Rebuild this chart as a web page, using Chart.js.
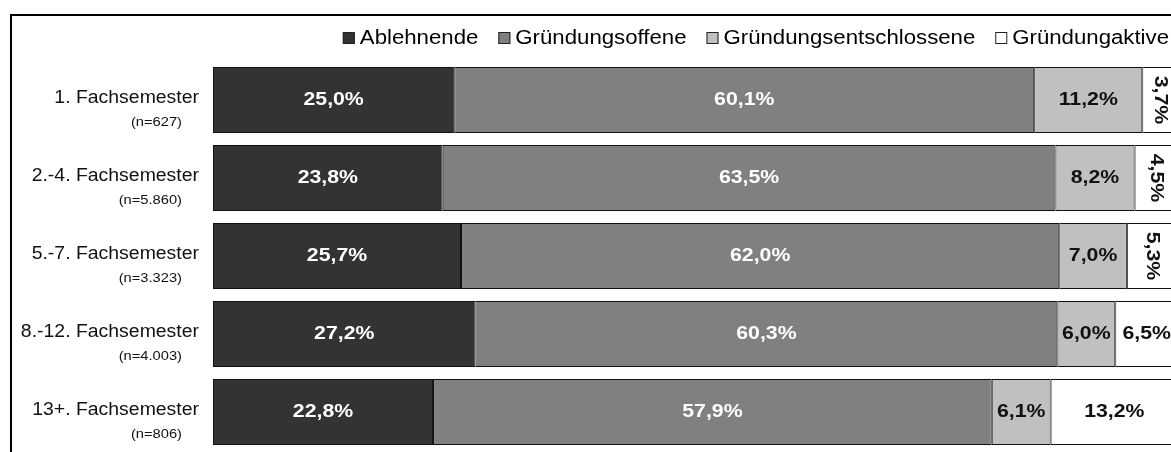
<!DOCTYPE html>
<html lang="de">
<head>
<meta charset="utf-8">
<title>Gründungsneigung nach Fachsemester</title>
<script src="https://cdn.jsdelivr.net/npm/chart.js@4/dist/chart.umd.min.js"></script>
<style>
  html, body { margin: 0; padding: 0; background: #fff; overflow: hidden; }
  #wrap { position: relative; width: 1178px; height: 452px; }
</style>
</head>
<body>
<div id="wrap"><canvas id="graphSemester"></canvas></div>
<script>
// ===== Daten =====
const semester = ["1. Fachsemester", "2.-4. Fachsemester", "5.-7. Fachsemester", "8.-12. Fachsemester", "13+. Fachsemester"];
const fallzahlen = ["(n=627)", "(n=5.860)", "(n=3.323)", "(n=4.003)", "(n=806)"];
const ablehnende = [25.0, 23.8, 25.7, 27.2, 22.8];
const gruendungsoffene = [60.1, 63.5, 62.0, 60.3, 57.9];
const gruendungsentschlossene = [11.2, 8.2, 7.0, 6.0, 6.1];
const gruendungaktive = [3.7, 4.5, 5.3, 6.5, 13.2];

const farben = ["#333333", "#808080", "#c0c0c0", "#ffffff"];
const textFarben = ["#ffffff", "#ffffff", "#111111", "#111111"];
const FONT = "'Liberation Sans', Arial, sans-serif";

function fmt(v) {
  return v.toFixed(1).replace(".", ",") + "%";
}

// Text mit horizontaler Streckung zeichnen
function drawText(ctx, text, x, y, align, sx) {
  ctx.save();
  ctx.translate(x, y);
  ctx.scale(sx, 1);
  ctx.textAlign = align;
  ctx.textBaseline = "middle";
  ctx.fillText(text, 0, 0);
  ctx.restore();
}

// Rahmen, Legende, Achsenbeschriftung und Werte
const beschriftung = {
  id: "beschriftung",
  beforeDraw(chart) {
    const ctx = chart.ctx;
    ctx.save();
    ctx.fillStyle = "#000";
    ctx.fillRect(10, 14, 2, chart.height);
    ctx.fillRect(10, 14, chart.width, 2);
    ctx.restore();
  },
  afterDraw(chart) {
    const ctx = chart.ctx;
    const yScale = chart.scales.y;
    const ds = chart.data.datasets;

    // Legende (rechtsbündig)
    ctx.save();
    ctx.font = "20px " + FONT;
    const sLeg = 1.11;
    let x = 1169;
    for (let i = ds.length - 1; i >= 0; i--) {
      const w = ctx.measureText(ds[i].label).width * sLeg;
      const tx = x - w;
      ctx.fillStyle = "#000";
      drawText(ctx, ds[i].label, tx, 38, "left", sLeg);
      const bx = tx - 17;
      ctx.fillStyle = farben[i];
      ctx.fillRect(bx, 32, 12, 12);
      ctx.strokeStyle = "#222";
      ctx.lineWidth = 1;
      ctx.strokeRect(bx + 0.5, 32.5, 11, 11);
      x = bx - 20;
    }
    ctx.restore();

    // Kategorien links
    ctx.save();
    ctx.fillStyle = "#111";
    semester.forEach((s, i) => {
      const cy = yScale.getPixelForValue(i);
      ctx.font = "17.5px " + FONT;
      drawText(ctx, s, 199, cy - 2, "right", 1.11);
      ctx.font = "13px " + FONT;
      drawText(ctx, fallzahlen[i], 182, cy + 22, "right", 1.13);
    });
    ctx.restore();

    // Werte in den Balken
    ctx.save();
    ctx.font = "bold 19px " + FONT;
    const sVal = 1.12;
    ds.forEach((d, di) => {
      const meta = chart.getDatasetMeta(di);
      meta.data.forEach((bar, i) => {
        const txt = fmt(d.data[i]);
        const segW = Math.abs(bar.x - bar.base);
        const cx = (bar.x + bar.base) / 2;
        const tw = ctx.measureText(txt).width * sVal;
        ctx.fillStyle = textFarben[di];
        if (tw + 4 > segW) {
          ctx.save();
          ctx.translate(cx, bar.y);
          ctx.rotate(Math.PI / 2);
          drawText(ctx, txt, 0, 0, "center", sVal);
          ctx.restore();
        } else {
          drawText(ctx, txt, cx, bar.y, "center", sVal);
        }
      });
    });
    ctx.restore();
  }
};

document.addEventListener("DOMContentLoaded", function () {
  const ctx = document.getElementById("graphSemester");
  const reihen = [ablehnende, gruendungsoffene, gruendungsentschlossene, gruendungaktive];
  const namen = ["Ablehnende", "Gründungsoffene", "Gründungsentschlossene", "Gründungaktive"];

  new Chart(ctx, {
    type: "bar",
    data: {
      labels: semester,
      datasets: reihen.map((r, i) => ({
        label: namen[i],
        data: r,
        backgroundColor: farben[i],
        borderColor: "#111",
        borderWidth: 1,
        borderSkipped: false,
        barPercentage: 0.846,
        categoryPercentage: 1.0
      }))
    },
    options: {
      indexAxis: "y",
      responsive: true,
      maintainAspectRatio: false,
      animation: false,
      layout: { padding: { left: 213, top: 61, right: 0, bottom: 1 } },
      plugins: {
        legend: { display: false },
        tooltip: { enabled: false }
      },
      scales: {
        x: { stacked: true, min: 0, max: 100, display: false },
        y: { stacked: true, display: false }
      }
    },
    plugins: [beschriftung]
  });
});
</script>
</body>
</html>
